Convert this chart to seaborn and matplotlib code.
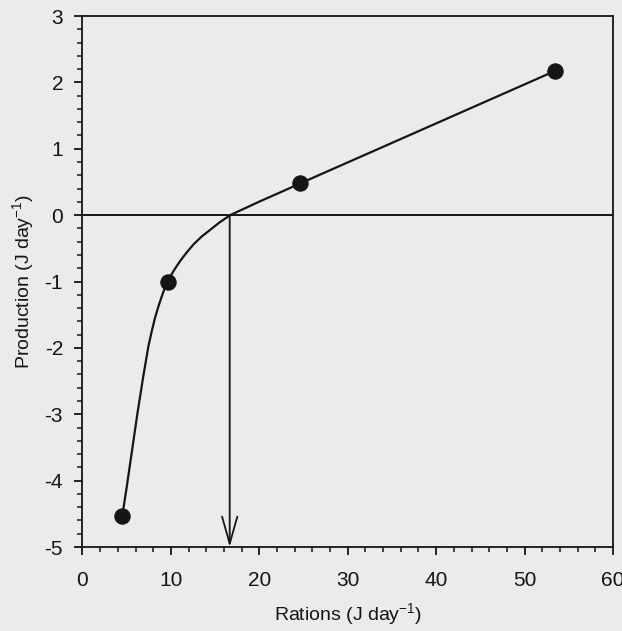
import matplotlib
matplotlib.use("Agg")
import matplotlib.pyplot as plt
import seaborn as sns
import pandas as pd
from matplotlib.ticker import MultipleLocator

# observed data points
ration_pts = [4.5, 9.65, 24.65, 53.4]
production_pts = [-4.53, -1.0, 0.48, 2.17]

# fitted curve
curve_x = [4.5, 5.0, 5.6, 6.2, 6.85, 7.45, 7.85, 8.2, 8.6, 8.98, 9.3, 9.65,
           10.0, 10.4, 11.05, 11.8, 12.56, 13.5, 14.46, 15.5, 16.7,
           18.4, 20.1, 22.4, 24.65, 53.4]
curve_y = [-4.53, -4.1, -3.55, -3.0, -2.45, -1.98, -1.74, -1.55, -1.37, -1.22, -1.1, -1.0,
           -0.91, -0.82, -0.69, -0.56, -0.44, -0.32, -0.22, -0.11, 0.0,
           0.105, 0.21, 0.345, 0.48, 2.17]

# maintenance ration (arrow)
zero_x = 16.65

xticks = [0, 10, 20, 30, 40, 50, 60]
yticks = [-5, -4, -3, -2, -1, 0, 1, 2, 3]

sns.set_style("ticks")
bg = "#ebebeb"
plt.rcParams["font.family"] = ["Liberation Sans", "DejaVu Sans"]
plt.rcParams["mathtext.fontset"] = "custom"
plt.rcParams["mathtext.rm"] = "Liberation Sans"
plt.rcParams["mathtext.it"] = "Liberation Sans"
plt.rcParams["axes.unicode_minus"] = False

fig = plt.figure(figsize=(6.22, 6.31), dpi=100, facecolor=bg)
ax = fig.add_axes([0.1326, 0.1331, 0.8529, 0.8415])
ax.set_facecolor(bg)

ink = "#151515"
df_curve = pd.DataFrame({"x": curve_x, "y": curve_y})
df_pts = pd.DataFrame({"x": ration_pts, "y": production_pts})

ax.axhline(0, color=ink, lw=1.4, zorder=1)
sns.lineplot(data=df_curve, x="x", y="y", sort=False, color=ink, lw=1.6, ax=ax, zorder=2)
sns.scatterplot(data=df_pts, x="x", y="y", s=120, color=ink, edgecolor=ink, ax=ax, zorder=3)

ax.annotate("", xy=(zero_x, -5), xytext=(zero_x, 0),
            arrowprops=dict(arrowstyle="->,head_length=1.95,head_width=0.55",
                            color=ink, lw=1.3, shrinkA=0, shrinkB=0))

ax.set_xlim(0, 60)
ax.set_ylim(-5, 3)
ax.set_xticks(xticks)
ax.set_yticks(yticks)
ax.xaxis.set_minor_locator(MultipleLocator(2))
ax.yaxis.set_minor_locator(MultipleLocator(0.2))
ax.tick_params(which="major", direction="out", length=6, width=1.3, labelsize=15, colors=ink, pad=8)
ax.tick_params(axis="x", which="major", pad=11)
ax.tick_params(which="minor", direction="out", length=3.5, width=1.1, colors=ink)
for s in ax.spines.values():
    s.set_color(ink)
    s.set_linewidth(1.3)

ax.set_xlabel("Rations (J day$^{-1}$)", fontsize=14, color=ink, labelpad=8)
ax.set_ylabel("Production (J day$^{-1}$)", fontsize=14, color=ink, labelpad=6)

fig.savefig("out.png", dpi=100, facecolor=bg)
